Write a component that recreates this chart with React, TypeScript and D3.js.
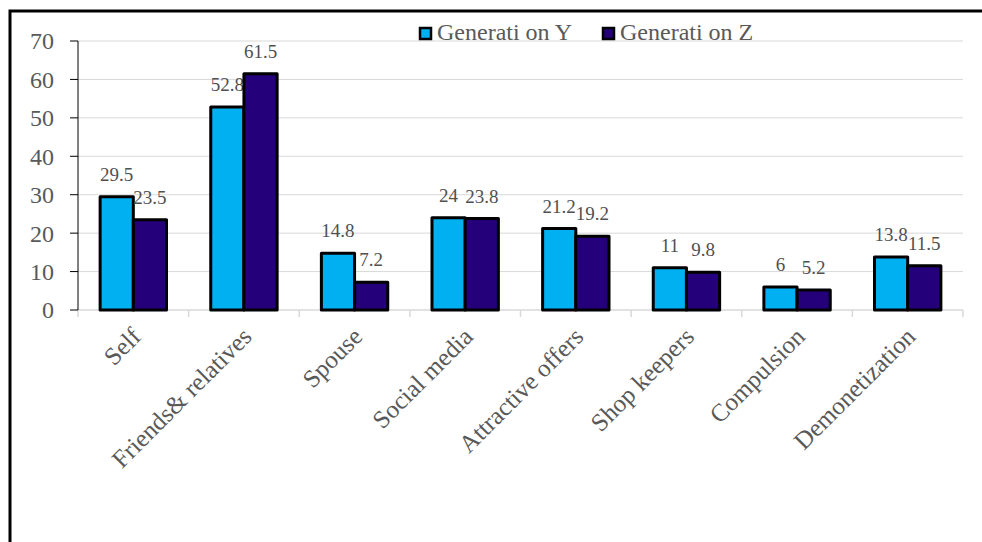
import React from "react";
import * as d3 from "d3";

const categories = ["Self", "Friends& relatives", "Spouse", "Social media", "Attractive offers", "Shop keepers", "Compulsion", "Demonetization"];
const seriesNames = ["Generati on Y", "Generati on Z"];
const genY = [29.5, 52.8, 14.8, 24, 21.2, 11, 6, 13.8];
const genZ = [23.5, 61.5, 7.2, 23.8, 19.2, 9.8, 5.2, 11.5];
const yTicks = [0, 10, 20, 30, 40, 50, 60, 70];
const colors = ["#00B0F0", "#24007A"];

const W = 982;
const H = 542;
const left = 78;
const right = 963;
const top = 41;
const bottom = 310;
const serif = "'Liberation Serif', 'Times New Roman', serif";

export default function App() {
  const x0 = d3.scaleBand<string>().domain(categories).range([left, right]).paddingInner(0.4).paddingOuter(0.2);
  const x1 = d3.scaleBand<number>().domain([0, 1]).range([0, x0.bandwidth()]);
  const y = d3.scaleLinear().domain([0, 70]).range([bottom, top]);
  const step = x0.step();
  const data = [genY, genZ];
  const boundaries = d3.range(categories.length + 1).map((i) => left + i * step);

  return (
    <svg width={W} height={H} style={{ position: "absolute", left: 0, top: 0, display: "block", background: "#fff" }}>
      <rect x={10} y={11} width={1000} height={600} fill="#fff" stroke="#000" strokeWidth={3} />
      {yTicks.filter((t) => t > 0).map((t) => (
        <line key={"g" + t} x1={left} x2={right} y1={y(t)} y2={y(t)} stroke="#d9d9d9" strokeWidth={1} />
      ))}
      <line x1={left} x2={right} y1={bottom} y2={bottom} stroke="#d9d9d9" strokeWidth={1.5} />
      {boundaries.map((bx, i) => (
        <line key={"xt" + i} x1={bx} x2={bx} y1={bottom} y2={bottom + 7} stroke="#d9d9d9" strokeWidth={1.5} />
      ))}
      <line x1={left} x2={left} y1={top} y2={bottom} stroke="#000" strokeWidth={1} />
      {yTicks.map((t) => (
        <g key={"yt" + t}>
          <line x1={left - 8} x2={left} y1={y(t)} y2={y(t)} stroke="#000" strokeWidth={1} />
          <text x={left - 24} y={y(t)} dy="0.35em" textAnchor="end" fontFamily={serif} fontSize={24} fill="#595959">
            {t}
          </text>
        </g>
      ))}
      {categories.map((c, ci) => (
        <g key={c}>
          {data.map((s, si) => {
            const bx = (x0(c) as number) + (x1(si) as number);
            const bw = x1.bandwidth();
            return (
              <g key={si}>
                <rect x={bx} y={y(s[ci])} width={bw} height={bottom - y(s[ci])} fill={colors[si]} stroke="#000" strokeWidth={3} strokeLinejoin="round" />
                <text x={bx + bw / 2} y={y(s[ci]) - 16} textAnchor="middle" fontFamily={serif} fontSize={19} fill="#505050">
                  {s[ci]}
                </text>
              </g>
            );
          })}
          <text
            transform={`translate(${(x0(c) as number) + x0.bandwidth() / 2 + 3},${bottom + 22}) rotate(-45)`}
            textAnchor="end"
            dy="0.35em"
            fontFamily={serif}
            fontSize={25}
            fill="#595959"
          >
            {c}
          </text>
        </g>
      ))}
      {seriesNames.map((n, i) => {
        const lx = [419, 602][i];
        return (
          <g key={n}>
            <rect x={lx + 1} y={28} width={11} height={11} fill={colors[i]} stroke="#000" strokeWidth={2.5} />
            <text x={lx + 18} y={40} fontFamily={serif} fontSize={24} fill="#595959">
              {n}
            </text>
          </g>
        );
      })}
    </svg>
  );
}
